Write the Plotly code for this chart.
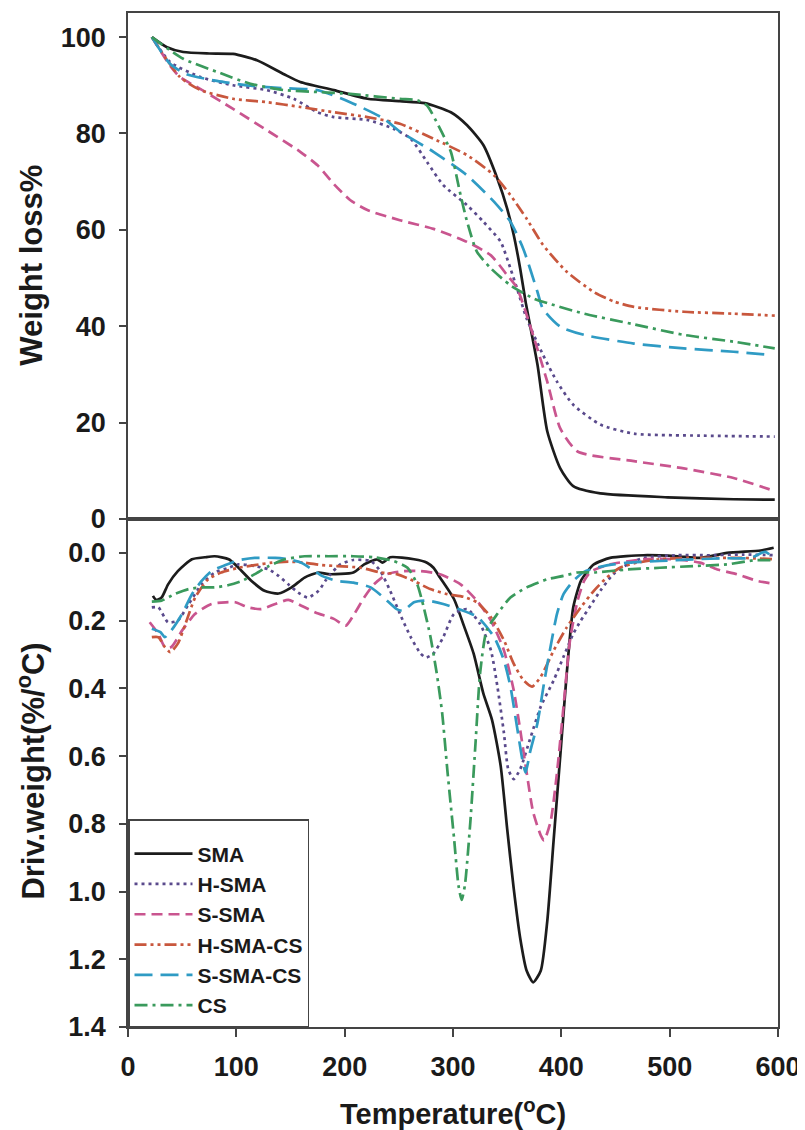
import plotly.graph_objects as go

# ---------------- TGA (top panel) ----------------
SMA_T = [22, 36, 51, 75, 97, 119, 144, 159, 190, 221, 251, 274, 298, 313, 328, 341, 350, 356, 362, 367, 378, 387, 399, 411, 436, 498, 559, 597]
SMA_W = [100, 97.9, 96.9, 96.6, 96.5, 95.2, 92.3, 90.7, 89.0, 87.2, 86.7, 86.3, 84.4, 81.7, 77.6, 70.6, 64.4, 59.0, 52.0, 45.1, 32.0, 18.2, 10.5, 6.8, 5.3, 4.5, 4.1, 4.0]

HSMA_T = [22, 39, 67, 97, 128, 153, 175, 190, 221, 245, 261, 276, 291, 313, 328, 344, 353, 359, 368, 383, 396, 411, 436, 467, 528, 597]
HSMA_W = [100, 94.8, 91.7, 90.0, 89.0, 87.2, 84.4, 83.4, 82.8, 81.0, 78.9, 74.1, 69.3, 65.1, 61.7, 57.5, 52.0, 47.9, 41.6, 34.1, 28.5, 23.7, 19.6, 17.7, 17.3, 17.1]

SSMA_T = [22, 39, 48, 67, 97, 128, 159, 175, 190, 205, 221, 251, 282, 313, 335, 350, 359, 375, 387, 399, 415, 467, 513, 559, 597]
SSMA_W = [100, 94.0, 91.7, 89.2, 85.1, 80.7, 76.2, 73.4, 69.5, 66.2, 64.1, 62.0, 60.2, 57.5, 54.7, 50.6, 48.0, 37.4, 28.5, 18.8, 14.0, 12.0, 10.5, 8.5, 5.8]

HSMACS_T = [22, 48, 67, 97, 128, 159, 190, 221, 251, 282, 313, 338, 353, 368, 383, 405, 430, 449, 467, 513, 559, 597]
HSMACS_W = [100, 91.7, 89.0, 87.2, 86.5, 85.5, 84.4, 83.4, 82.0, 78.9, 75.5, 71.3, 67.2, 62.3, 56.9, 51.3, 47.1, 45.1, 44.0, 43.0, 42.6, 42.2]

SSMACS_T = [22, 39, 54, 82, 113, 144, 175, 205, 236, 251, 282, 313, 338, 353, 365, 378, 383, 399, 421, 467, 513, 559, 590]
SSMACS_W = [100, 94.4, 92.3, 90.9, 89.9, 89.4, 89.0, 86.5, 83.1, 80.4, 76.2, 71.3, 65.8, 61.7, 56.0, 47.1, 43.6, 39.9, 38.2, 36.4, 35.4, 34.7, 34.1]

CS_T = [22, 51, 82, 113, 144, 175, 205, 251, 267, 276, 288, 298, 307, 313, 322, 335, 353, 375, 390, 421, 467, 513, 559, 597]
CS_W = [100, 95.5, 92.8, 90.3, 89.0, 88.6, 88.2, 87.2, 86.9, 85.8, 81.0, 76.2, 67.2, 61.7, 55.5, 52.0, 48.5, 45.7, 44.6, 42.6, 40.4, 38.2, 36.8, 35.4]

# ---------------- DTG (bottom panel) ----------------
SMA_dT = [23, 26, 31, 37, 46, 59, 71, 80, 93, 102, 114, 126, 139, 151, 163, 176, 185, 208, 218, 230, 235, 242, 264, 276, 282, 288, 301, 310, 319, 328, 336, 344, 350, 356, 362, 368, 374, 381, 387, 393, 399, 405, 411, 418, 424, 430, 445, 476, 507, 528, 553, 584, 596]
SMA_D = [0.127, 0.139, 0.132, 0.093, 0.054, 0.019, 0.013, 0.010, 0.019, 0.044, 0.083, 0.112, 0.120, 0.102, 0.073, 0.058, 0.063, 0.058, 0.034, 0.019, 0.029, 0.013, 0.019, 0.029, 0.044, 0.073, 0.137, 0.215, 0.297, 0.415, 0.493, 0.629, 0.815, 0.990, 1.137, 1.234, 1.268, 1.234, 1.088, 0.844, 0.600, 0.356, 0.161, 0.083, 0.055, 0.034, 0.015, 0.007, 0.010, 0.015, 0.0, -0.007, -0.015]

HSMA_dT = [22, 28, 37, 46, 56, 68, 80, 93, 102, 117, 130, 139, 148, 157, 166, 176, 182, 187, 196, 208, 224, 233, 242, 251, 261, 270, 275, 282, 291, 301, 313, 325, 335, 341, 347, 351, 356, 362, 371, 381, 393, 402, 411, 418, 427, 436, 448, 461, 476, 507, 538, 568, 596]
HSMA_D = [0.161, 0.161, 0.205, 0.200, 0.151, 0.093, 0.058, 0.044, 0.034, 0.039, 0.049, 0.068, 0.093, 0.117, 0.132, 0.112, 0.083, 0.063, 0.034, 0.021, 0.024, 0.054, 0.112, 0.180, 0.249, 0.297, 0.309, 0.297, 0.249, 0.180, 0.166, 0.210, 0.288, 0.395, 0.532, 0.639, 0.668, 0.639, 0.551, 0.454, 0.376, 0.307, 0.239, 0.200, 0.156, 0.112, 0.063, 0.034, 0.015, 0.007, 0.007, 0.005, 0.007]

SSMA_dT = [20, 28, 34, 40, 50, 62, 77, 90, 99, 111, 123, 136, 148, 160, 173, 190, 201, 208, 218, 227, 239, 254, 270, 288, 307, 322, 335, 347, 356, 362, 368, 374, 381, 384, 390, 396, 402, 408, 415, 421, 427, 445, 476, 507, 528, 544, 562, 581, 596]
SSMA_D = [0.205, 0.239, 0.278, 0.278, 0.229, 0.180, 0.151, 0.146, 0.146, 0.161, 0.166, 0.151, 0.139, 0.156, 0.176, 0.195, 0.215, 0.185, 0.132, 0.093, 0.063, 0.054, 0.054, 0.063, 0.093, 0.141, 0.200, 0.288, 0.405, 0.522, 0.649, 0.766, 0.834, 0.849, 0.795, 0.649, 0.454, 0.258, 0.141, 0.083, 0.056, 0.034, 0.019, 0.019, 0.029, 0.049, 0.063, 0.083, 0.091]

HSMACS_dT = [22, 28, 34, 39, 46, 53, 62, 74, 86, 102, 117, 133, 148, 163, 179, 193, 215, 233, 248, 264, 279, 295, 310, 322, 335, 347, 356, 365, 373, 381, 393, 405, 418, 430, 442, 454, 470, 491, 516, 541, 568, 596]
HSMACS_D = [0.249, 0.249, 0.278, 0.293, 0.268, 0.210, 0.132, 0.078, 0.058, 0.044, 0.036, 0.029, 0.026, 0.029, 0.036, 0.039, 0.044, 0.058, 0.063, 0.083, 0.107, 0.122, 0.130, 0.146, 0.190, 0.258, 0.327, 0.376, 0.395, 0.366, 0.288, 0.220, 0.161, 0.112, 0.073, 0.044, 0.029, 0.019, 0.015, 0.015, 0.015, 0.019]

SSMACS_dT = [22, 30, 34, 40, 50, 59, 68, 77, 90, 102, 117, 136, 148, 160, 170, 179, 193, 208, 224, 236, 248, 254, 264, 276, 291, 307, 323, 338, 347, 353, 359, 364, 367, 371, 378, 384, 390, 396, 402, 411, 421, 439, 461, 491, 522, 553, 575, 588, 596]
SSMACS_D = [0.224, 0.234, 0.249, 0.229, 0.180, 0.122, 0.083, 0.054, 0.036, 0.022, 0.015, 0.015, 0.019, 0.029, 0.049, 0.068, 0.083, 0.088, 0.102, 0.132, 0.166, 0.171, 0.146, 0.141, 0.151, 0.168, 0.190, 0.249, 0.317, 0.395, 0.512, 0.610, 0.649, 0.590, 0.502, 0.385, 0.278, 0.180, 0.122, 0.083, 0.056, 0.039, 0.029, 0.024, 0.019, 0.016, 0.015, -0.003, 0.015]

CS_dT = [22, 31, 43, 56, 68, 80, 93, 105, 117, 130, 145, 163, 185, 208, 227, 245, 258, 267, 273, 279, 285, 290, 295, 301, 305, 308, 311, 316, 321, 325, 331, 341, 353, 368, 387, 402, 415, 430, 461, 491, 522, 553, 578, 596]
CS_D = [0.144, 0.141, 0.122, 0.107, 0.102, 0.102, 0.095, 0.083, 0.063, 0.039, 0.019, 0.010, 0.010, 0.010, 0.013, 0.024, 0.044, 0.093, 0.161, 0.245, 0.356, 0.473, 0.649, 0.844, 0.981, 1.025, 0.981, 0.795, 0.551, 0.356, 0.229, 0.180, 0.132, 0.102, 0.078, 0.068, 0.058, 0.058, 0.049, 0.044, 0.039, 0.034, 0.022, 0.022]

X_TICKS = [0, 100, 200, 300, 400, 500, 600]
W_TICKS = [0, 20, 40, 60, 80, 100]
D_TICKS = [0.0, 0.2, 0.4, 0.6, 0.8, 1.0, 1.2, 1.4]

series = [
    ("SMA", SMA_T, SMA_W, SMA_dT, SMA_D, "#1c1c1c", "solid"),
    ("H-SMA", HSMA_T, HSMA_W, HSMA_dT, HSMA_D, "#5a4a8c", "3px,4px"),
    ("S-SMA", SSMA_T, SSMA_W, SSMA_dT, SSMA_D, "#c9558f", "11px,6px"),
    ("H-SMA-CS", HSMACS_T, HSMACS_W, HSMACS_dT, HSMACS_D, "#c8573d", "12px,4px,3px,4px,3px,4px"),
    ("S-SMA-CS", SSMACS_T, SSMACS_W, SSMACS_dT, SSMACS_D, "#2f9bc4", "18px,8px"),
    ("CS", CS_T, CS_W, CS_dT, CS_D, "#3a9a5c", "13px,5px,3px,5px"),
]

FONT = "Liberation Sans, Arial, sans-serif"
fig = go.Figure()
for name, t, w, dt, d, col, dash in series:
    fig.add_trace(go.Scatter(x=t, y=w, xaxis="x2", yaxis="y", mode="lines", showlegend=False,
                             line=dict(color=col, width=2.7, dash=dash, shape="spline", smoothing=0.6)))
for name, t, w, dt, d, col, dash in series:
    fig.add_trace(go.Scatter(x=dt, y=d, xaxis="x", yaxis="y2", mode="lines", name=name,
                             line=dict(color=col, width=2.7, dash=dash, shape="spline", smoothing=0.6)))

axcol = "#444444"
tickfont = dict(family=FONT, size=27, color="#1a1a1a", weight="bold")
common = dict(showline=True, linecolor=axcol, linewidth=1.5, mirror=True, showgrid=False, zeroline=False)

split = 0.501
fig.update_layout(
    width=797, height=1122,
    margin=dict(l=120, r=27, t=3, b=103),
    paper_bgcolor="white", plot_bgcolor="white",
    xaxis=dict(domain=[0, 1], anchor="y2", range=[0, 600], tickvals=X_TICKS,
               ticks="outside", ticklen=8, tickwidth=1.5, tickcolor=axcol,
               tickfont=tickfont, ticklabelstandoff=7, **common),
    xaxis2=dict(domain=[0, 1], anchor="y", range=[0, 600], showticklabels=False, ticks="", **common),
    yaxis=dict(domain=[split, 1], anchor="x2", range=[0, 105], tickvals=W_TICKS,
               ticks="outside", ticklen=7, tickwidth=1.5, tickcolor=axcol,
               tickfont=tickfont, ticklabelstandoff=8, **common),
    yaxis2=dict(domain=[0, split], anchor="x", range=[1.4, -0.1], tickvals=D_TICKS,
                ticktext=["%.1f" % v for v in D_TICKS],
                ticks="outside", ticklen=7, tickwidth=1.5, tickcolor=axcol,
                tickfont=tickfont, ticklabelstandoff=8, **common),
    legend=dict(x=0, y=0, xanchor="left", yanchor="bottom", bgcolor="white",
                bordercolor=axcol, borderwidth=1.5, itemwidth=58, tracegroupgap=0,
                title=dict(text=" ", font=dict(size=10)),
                font=dict(family=FONT, size=21, color="#1a1a1a", weight="bold")),
    annotations=[
        dict(text="Weight loss%", xref="paper", yref="paper", x=-0.149, y=0.751,
             xanchor="center", yanchor="middle", textangle=-90, showarrow=False,
             font=dict(family=FONT, size=31, color="#1a1a1a", weight="bold")),
        dict(text="Driv.weight(%/<sup>o</sup>C)", xref="paper", yref="paper", x=-0.149, y=0.252,
             xanchor="center", yanchor="middle", textangle=-90, showarrow=False,
             font=dict(family=FONT, size=31, color="#1a1a1a", weight="bold")),
        dict(text="Temperature(<sup>o</sup>C)", xref="paper", yref="paper", x=0.5, y=-0.084,
             xanchor="center", yanchor="middle", showarrow=False,
             font=dict(family=FONT, size=29, color="#1a1a1a", weight="bold")),
    ],
)

fig.write_html("out.html")
